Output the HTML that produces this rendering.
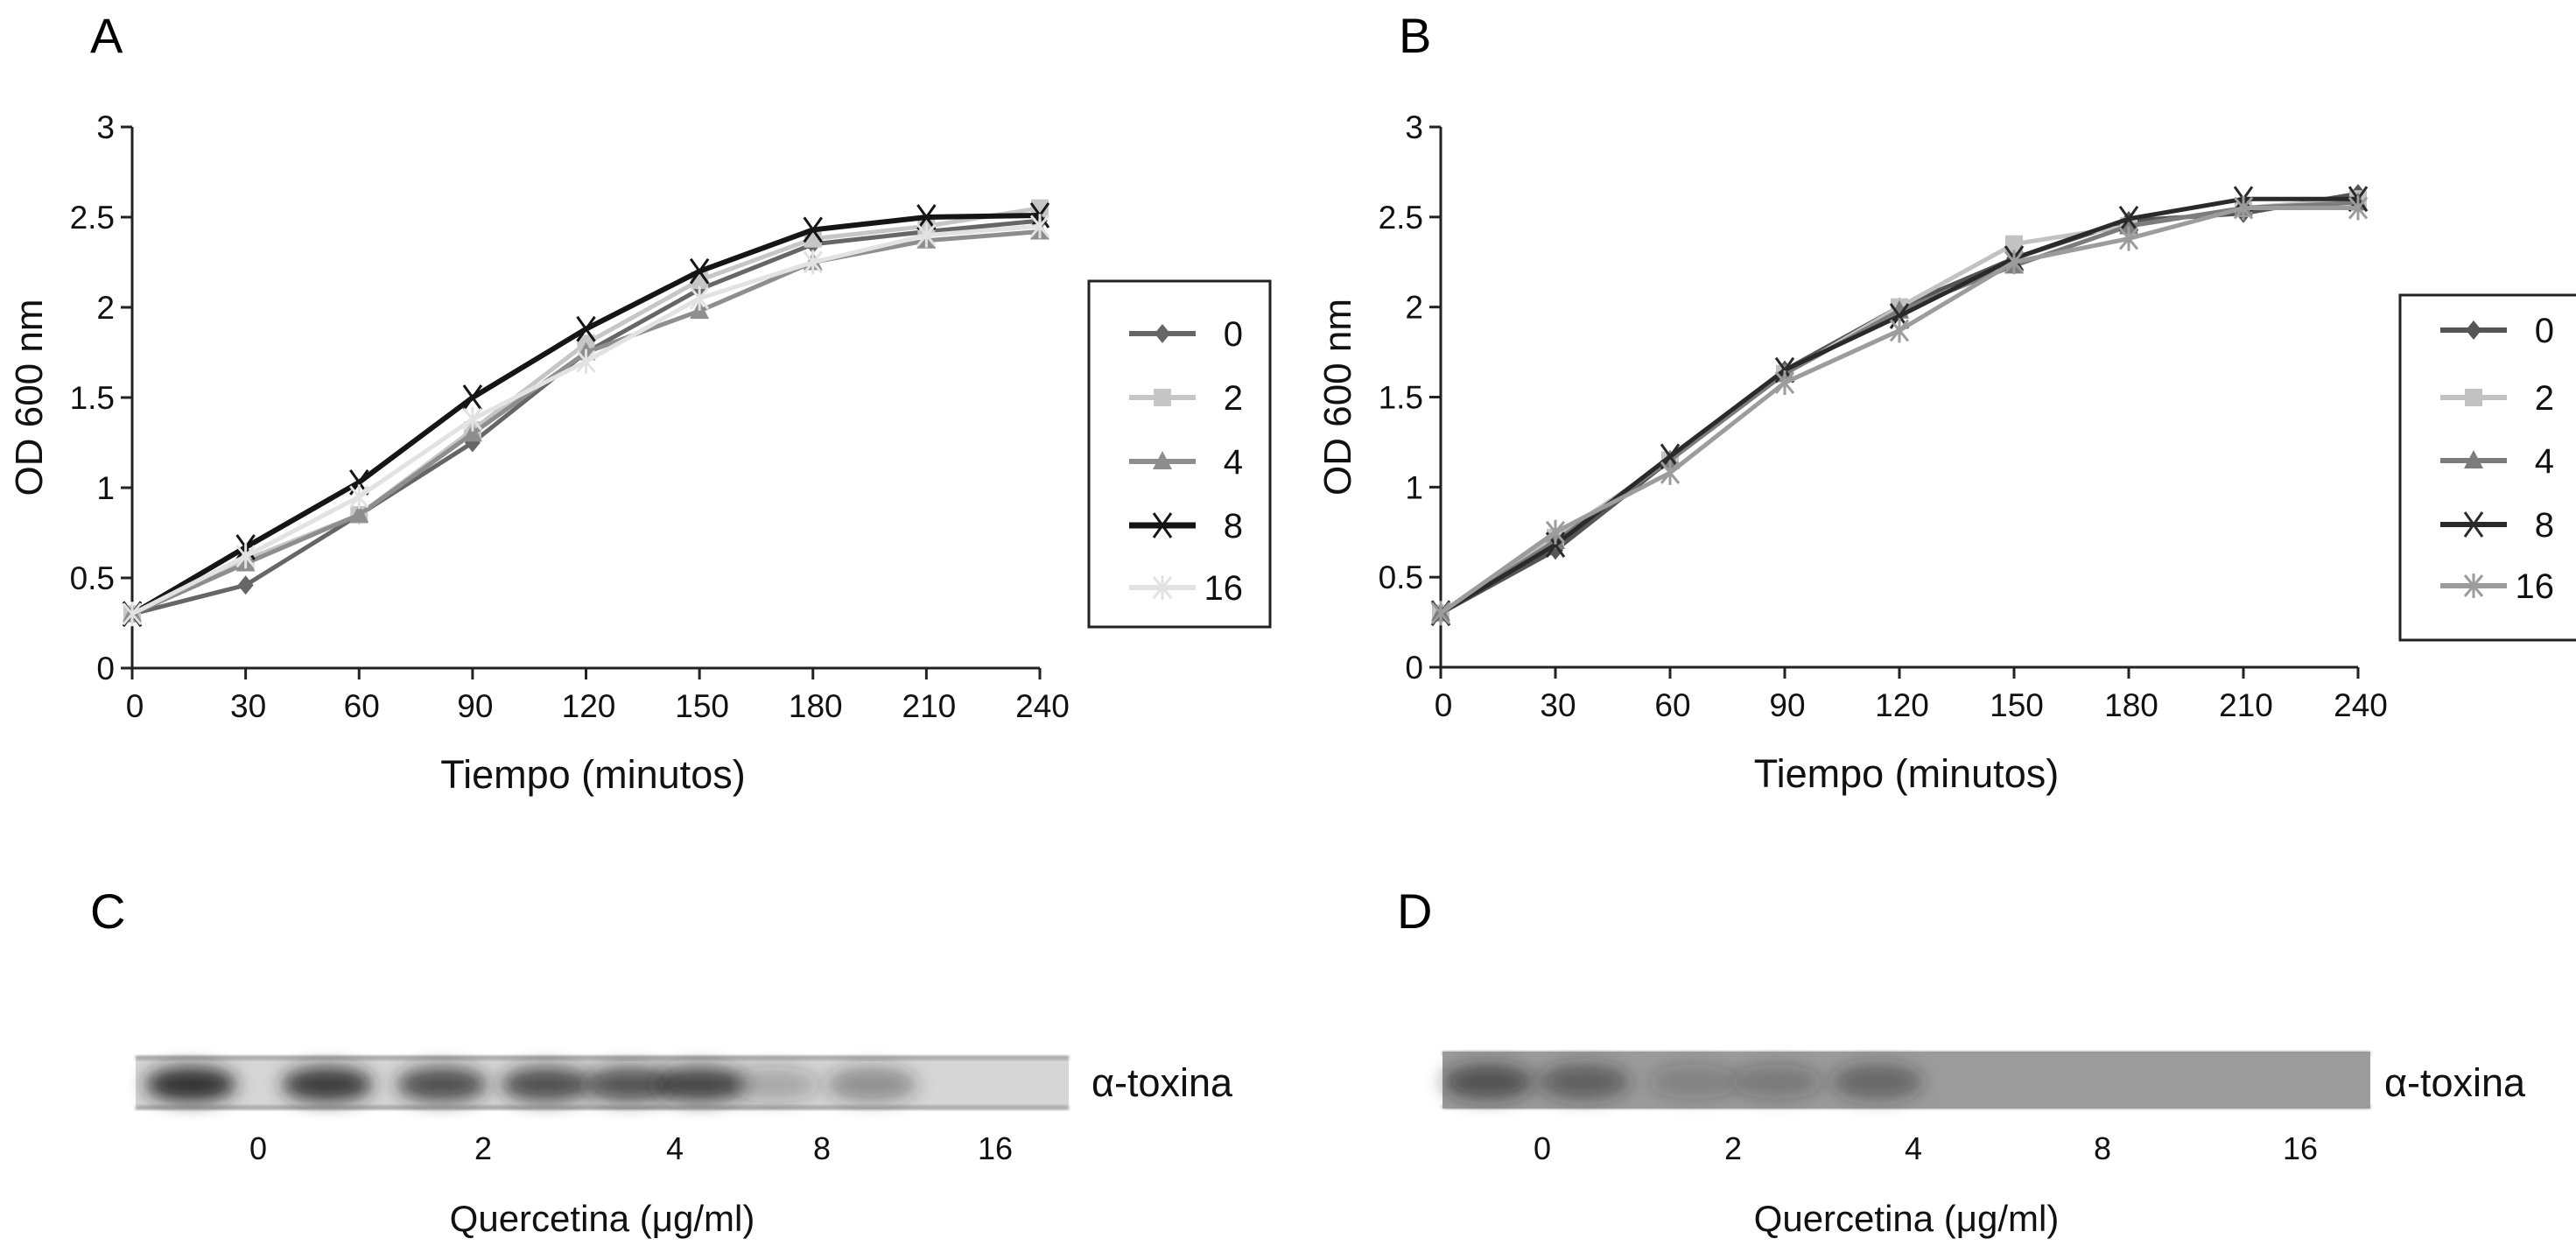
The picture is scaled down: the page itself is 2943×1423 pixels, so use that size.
<!DOCTYPE html>
<html><head><meta charset="utf-8"><style>
html,body{margin:0;padding:0;background:#fff;}
svg{display:block;font-family:"Liberation Sans",sans-serif;}
</style></head><body>
<svg id="fig" width="2943" height="1423" viewBox="0 0 2943 1423" xmlns="http://www.w3.org/2000/svg">
<defs>
<filter id="blur" x="-50%" y="-100%" width="200%" height="300%"><feGaussianBlur stdDeviation="10"/></filter>
<filter id="blur2" x="-10%" y="-50%" width="120%" height="200%"><feGaussianBlur stdDeviation="2"/></filter>
</defs>
<g id="root"></g>
</svg>
<script>
const times = [0,30,60,90,120,150,180,210,240];
const seriesNames = ["0","2","4","8","16"];
const yTicks = [0,0.5,1,1.5,2,2.5,3];
const yTickLabels = ["0","0.5","1","1.5","2","2.5","3"];
const xTickLabels = ["0","30","60","90","120","150","180","210","240"];
const a0 = [0.3,0.46,0.85,1.25,1.75,2.1,2.35,2.42,2.48];
const a2 = [0.3,0.6,0.85,1.32,1.8,2.15,2.38,2.45,2.55];
const a4 = [0.3,0.58,0.85,1.3,1.75,1.98,2.25,2.37,2.42];
const a8 = [0.3,0.67,1.03,1.5,1.88,2.2,2.43,2.5,2.51];
const a16 = [0.3,0.62,0.95,1.38,1.7,2.05,2.25,2.4,2.45];
const b0 = [0.3,0.65,1.15,1.65,2.0,2.27,2.48,2.52,2.63];
const b2 = [0.3,0.72,1.15,1.63,2.0,2.35,2.45,2.55,2.6];
const b4 = [0.3,0.7,1.15,1.63,1.98,2.23,2.45,2.55,2.58];
const b8 = [0.3,0.68,1.17,1.65,1.95,2.27,2.49,2.6,2.6];
const b16 = [0.3,0.75,1.08,1.58,1.87,2.25,2.38,2.55,2.55];
const laneLabels = ["0","2","4","8","16"];
const bandsC = [0.9,0.85,0.75,0.75,0.7,0.8,0.25,0.4,0,0];
const bandsD = [0.6,0.5,0.22,0.28,0.45,0,0,0,0,0];

const NS="http://www.w3.org/2000/svg";
const root=document.getElementById('root');
function mk(tag,attrs,parent){const e=document.createElementNS(NS,tag);for(const k in attrs)e.setAttribute(k,attrs[k]);(parent||root).appendChild(e);return e;}
function txt(s,attrs,parent){const e=mk('text',attrs,parent);e.textContent=s;return e;}

function marker(g,type,x,y,col){
  let m;
  if(type==="0"){m=mk('path',{d:`M${x} ${y-11}L${x+9} ${y}L${x} ${y+11}L${x-9} ${y}Z`,fill:col},g);}
  else if(type==="2"){m=mk('rect',{x:x-10,y:y-10,width:20,height:20,fill:col},g);}
  else if(type==="4"){m=mk('path',{d:`M${x} ${y-12}L${x+11} ${y+9}L${x-11} ${y+9}Z`,fill:col},g);}
  else if(type==="8"){m=mk('path',{d:`M${x-10} ${y-14}L${x+10} ${y+14}M${x+10} ${y-14}L${x-10} ${y+14}`,stroke:col,'stroke-width':3,fill:'none'},g);}
  else {m=mk('path',{d:`M${x-10} ${y-12}L${x+10} ${y+12}M${x+10} ${y-12}L${x-10} ${y+12}M${x} ${y-14}L${x} ${y+14}`,stroke:col,'stroke-width':3,fill:'none'},g);}
  
  
}

function chart(id,letter,x0,x1,y0,y3,series,colors,widths,leg){
  const g=mk('g',{});
  
  
  const sx=t=>x0+(x1-x0)*t/240;
  const sy=v=>y0+(y3-y0)*v/3;
  const pl=txt(letter,{x:x0-48,y:60,'font-size':56},g);
  
  
  const ax=mk('path',{d:`M${x0} ${sy(3)}L${x0} ${y0}L${x1} ${y0}`,stroke:'#222','stroke-width':3,fill:'none'},g);
  
  
  yTicks.forEach((v,i)=>{
    mk('line',{x1:x0-13,x2:x0,y1:sy(v),y2:sy(v),stroke:'#222','stroke-width':3},g);
    const t=txt(yTickLabels[i],{x:x0-20,y:sy(v)+13,'font-size':37,'text-anchor':'end',fill:'#111'},g);
    
    
  });
  times.forEach((v,i)=>{
    mk('line',{x1:sx(v),x2:sx(v),y1:y0,y2:y0+13,stroke:'#222','stroke-width':3},g);
    const t=txt(xTickLabels[i],{x:sx(v)+3,y:y0+56,'font-size':37,'text-anchor':'middle',fill:'#111'},g);
    
    
  });
  const yt=txt('OD 600 nm',{x:0,y:0,'font-size':44,'text-anchor':'middle',transform:`translate(${x0-103},${(y0+y3)/2}) rotate(-90)`,fill:'#111'},g);
  
  
  const xt=txt('Tiempo (minutos)',{x:(x0+x1)/2+8,y:y0+137,'font-size':45,'text-anchor':'middle',fill:'#111'},g);
  
  
  series.forEach((s,k)=>{
    const d=s.map((v,i)=>(i?'L':'M')+sx(times[i])+' '+sy(v)).join('');
    const p=mk('path',{d:d,stroke:colors[k],'stroke-width':widths[k],fill:'none','stroke-linejoin':'round'},g);
    
    
    s.forEach((v,i)=>marker(g,seriesNames[k],sx(times[i]),sy(v),colors[k]));
  });
  const lg=mk('g',{},g);
  
  
  mk('rect',{x:leg.x,y:leg.y,width:leg.w,height:leg.h,fill:'#fff',stroke:'#222','stroke-width':3},lg);
  seriesNames.forEach((n,k)=>{
    const yy=leg.rows[k];
    const le=mk('g',{},lg);
    
    
    mk('line',{x1:leg.lx,x2:leg.lx+76,y1:yy,y2:yy,stroke:colors[k],'stroke-width':widths[k]+1},le);
    marker(le,n,leg.lx+38,yy,colors[k]);
    txt(n,{x:leg.tx,y:yy+14,'font-size':40,'text-anchor':'end',fill:'#111'},le);
  });
}
chart('a','A',151,1188,763,145,[a0,a2,a4,a8,a16],['#666','#c6c6c6','#8e8e8e','#151515','#e2e2e2'],[5,5,5,6,5],
  {x:1244,y:321,w:207,h:395,lx:1290,tx:1420,rows:[381,454,527,600,671]});
chart('b','B',1646,2694,762,145,[b0,b2,b4,b8,b16],['#555','#c2c2c2','#7c7c7c','#2a2a2a','#9c9c9c'],[5,5,5,5,5],
  {x:2742,y:337,w:210,h:394,lx:2788,tx:2918,rows:[377,454,526,599,669]});

function blot(id,letter,x0,x1,yt,yb,bg,lanes,labX,tox,bands,bandCx){
  const g=mk('g',{});
  
  
  const pl=txt(letter,{x:x0-52,y:1060,'font-size':56},g);
  
  
  const r=mk('rect',{x:x0,y:yt,width:x1-x0,height:yb-yt,fill:bg},g);
  
  
  mk('rect',{x:x0,y:yt,width:x1-x0,height:4,fill:'#9a9a9a',filter:'url(#blur2)'},g);
  mk('rect',{x:x0,y:yb-4,width:x1-x0,height:4,fill:'#9a9a9a',filter:'url(#blur2)'},g);
  bands.forEach((v,i)=>{
    if(v<=0)return;
    const e=mk('ellipse',{cx:bandCx[i],cy:(yt+yb)/2+2,rx:52,ry:20,fill:'#202020','fill-opacity':v,filter:'url(#blur)'},g);
    
    
  });
  lanes.forEach((s,i)=>{
    const t=txt(s,{x:labX[i],y:1324,'font-size':36,'text-anchor':'middle',fill:'#111'},g);
    
    
  });
  const a=txt('α-toxina',{x:tox,y:1252,'font-size':45,fill:'#111'},g);
  
  
  const q=txt('Quercetina (μg/ml)',{x:(x0+x1)/2,y:1406,'font-size':42,'text-anchor':'middle',fill:'#111'},g);
  
  
}
blot('c','C',155,1221,1206,1267,'#d6d6d6',laneLabels,[295,552,771,939,1137],1247,bandsC,[218,374,505,624,719,800,884,996,1080,1160]);
blot('d','D',1648,2708,1201,1266,'#9c9c9c',laneLabels,[1762,1980,2186,2402,2628],2724,bandsD,[1700,1810,1935,2030,2145,2300,2420,2520,2620,2680]);
</script>
</body></html>
